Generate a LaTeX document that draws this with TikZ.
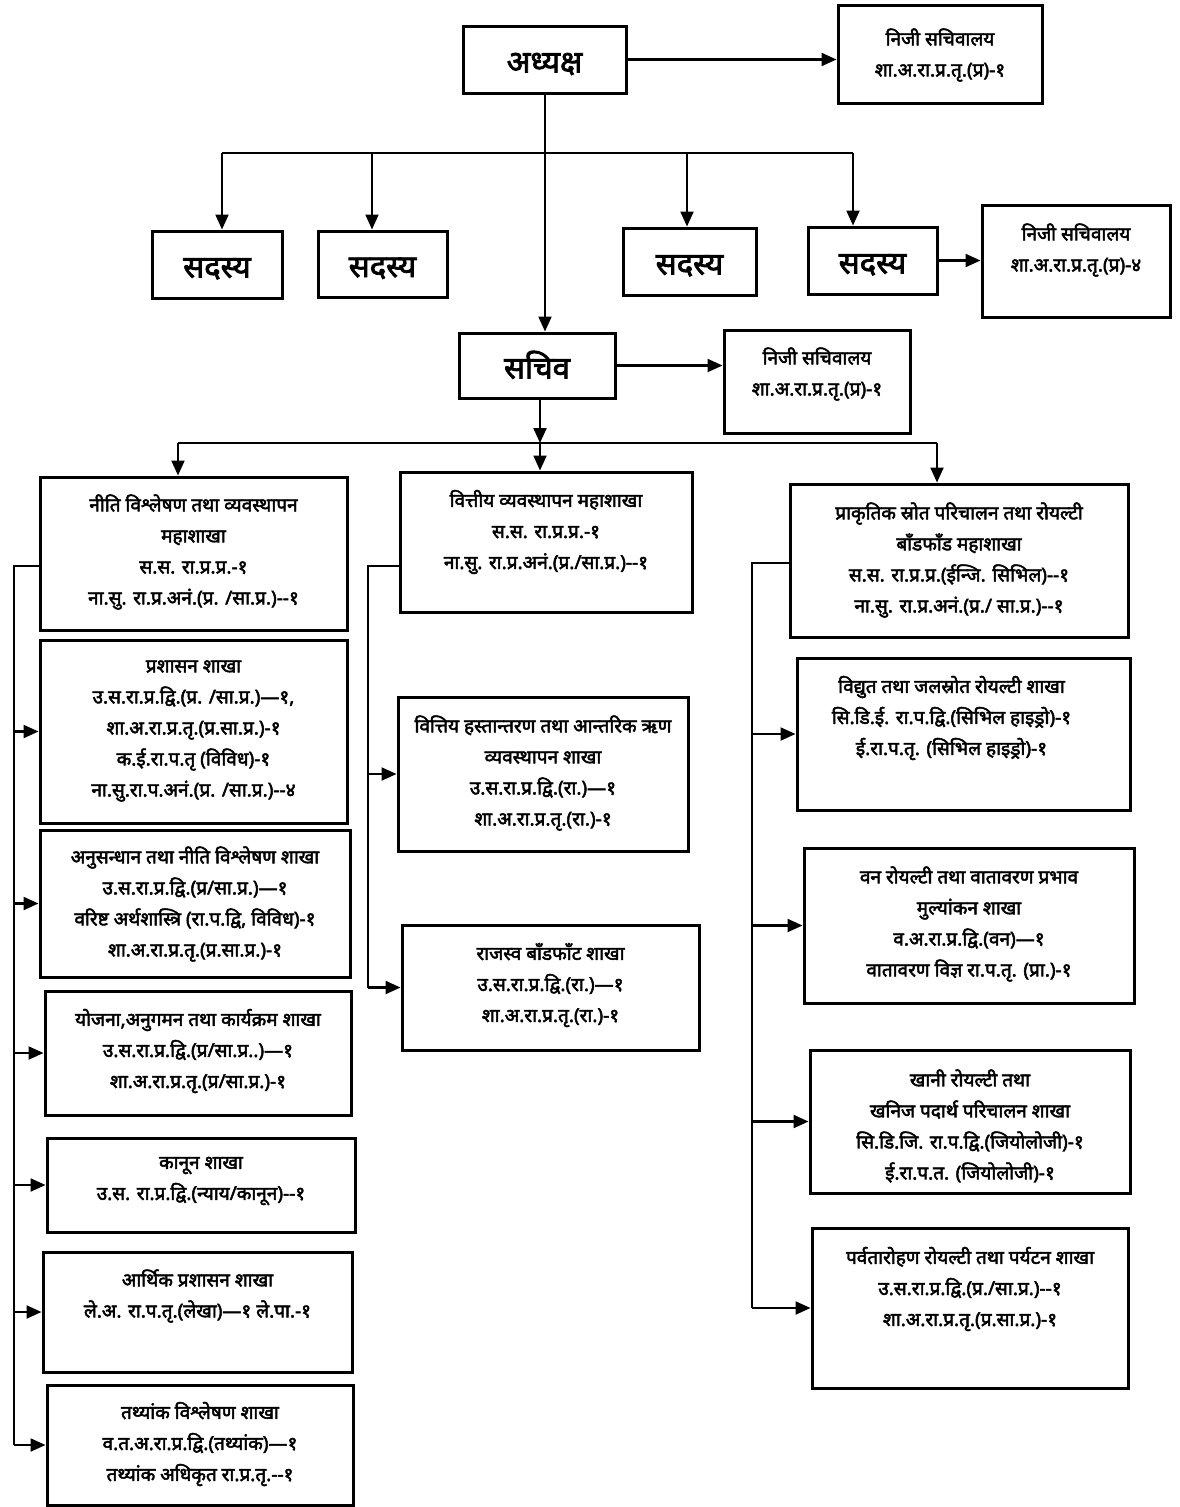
\documentclass[tikz,border=0pt]{standalone}
\usepackage{fontspec}
\newfontfamily\dev[Script=Devanagari,FakeBold=2.5]{Noto Sans}
\usetikzlibrary{arrows.meta,fit}
\begin{document}
\begin{tikzpicture}[x=1pt,y=-1pt,
  box/.style={draw,line width=3pt,inner sep=0pt},
  txt/.style={align=center,inner sep=0pt,font=\dev\fontsize{19}{31}\selectfont},
  big/.style={inner sep=0pt,font=\dev\fontsize{31}{36}\selectfont,text height=0.6em,text depth=0pt,yshift=-10pt},
  ln/.style={line width=2.2pt},
  arr/.style={ln,-{Triangle[length=15pt,width=13pt]}}]
\useasboundingbox (0,0) rectangle (1179,1507);

% top level
\node[box,fit={(463,26)(626,93)}] (adh) {};
\node[big] (adht) at (adh.center) {अध्यक्ष};
\node[box,fit={(838,5)(1042,103)}] (ps1) {};
\node[txt] (ps1t) at (ps1.center |- 0,55) {निजी सचिवालय\\शा.अ.रा.प्र.तृ.(प्र)-१};

\node[box,fit={(152,231)(282,298)}] (m1) {};
\node[box,fit={(318,231)(447,297)}] (m2) {};
\node[box,fit={(623,228)(756,295)}] (m3) {};
\node[box,fit={(808,227)(937,294)}] (m4) {};
\foreach \n in {m1,m2,m3,m4} \node[big] (\n t) at (\n.center) {सदस्य};
\node[box,fit={(982,205)(1170,317)}] (ps4) {};
\node[txt] (ps4t) at (ps4.center |- 0,250) {निजी सचिवालय\\शा.अ.रा.प्र.तृ.(प्र)-४};

\node[box,fit={(459,333)(615,398)}] (sac) {};
\node[big] (sact) at (sac.center) {सचिव};
\node[box,fit={(724,330)(910,433)}] (ps2) {};
\node[txt] (ps2t) at (ps2.center |- 0,374) {निजी सचिवालय\\शा.अ.रा.प्र.तृ.(प्र)-१};

% left column
\node[box,fit={(40,477)(347,630)}] (L1) {};
\node[txt] (L1t) at (L1.center |- 0,552) {नीति विश्लेषण तथा व्यवस्थापन\\महाशाखा\\स.स. रा.प्र.प्र.-१\\ना.सु. रा.प्र.अनं.(प्र. /सा.प्र.)--१};
\node[box,fit={(40,640)(347,823)}] (L2) {};
\node[txt] (L2t) at (L2.center |- 0,731) {प्रशासन शाखा\\उ.स.रा.प्र.द्वि.(प्र. /सा.प्र.)—१,\\शा.अ.रा.प्र.तृ.(प्र.सा.प्र.)-१\\क.ई.रा.प.तृ (विविध)-१\\ना.सु.रा.प.अनं.(प्र. /सा.प्र.)--४};
\node[box,fit={(40,830)(350,977)}] (L3) {};
\node[txt] (L3t) at (L3.center |- 0,904) {अनुसन्धान तथा नीति विश्लेषण शाखा\\उ.स.रा.प्र.द्वि.(प्र/सा.प्र.)—१\\वरिष्ट अर्थशास्त्रि (रा.प.द्वि, विविध)-१\\शा.अ.रा.प्र.तृ.(प्र.सा.प्र.)-१};
\node[box,fit={(45,991)(351,1115)}] (L4) {};
\node[txt] (L4t) at (L4.center |- 0,1051) {योजना,अनुगमन तथा कार्यक्रम शाखा\\उ.स.रा.प्र.द्वि.(प्र/सा.प्र..)—१\\शा.अ.रा.प्र.तृ.(प्र/सा.प्र.)-१};
\node[box,fit={(47,1138)(355,1232)}] (L5) {};
\node[txt] (L5t) at (L5.center |- 0,1181) {कानून शाखा\\उ.स. रा.प्र.द्वि.(न्याय/कानून)--१};
\node[box,fit={(43,1252)(352,1372)}] (L6) {};
\node[txt] (L6t) at (L6.center |- 0,1296) {आर्थिक प्रशासन शाखा\\ले.अ. रा.प.तृ.(लेखा)—१ ले.पा.-१};
\node[box,fit={(47,1385)(353,1505)}] (L7) {};
\node[txt] (L7t) at (L7.center |- 0,1444) {तथ्यांक विश्लेषण शाखा\\व.त.अ.रा.प्र.द्वि.(तथ्यांक)—१\\तथ्यांक अधिकृत रा.प्र.तृ.--१};

% middle column
\node[box,fit={(400,472)(692,612)}] (M1) {};
\node[txt] (M1t) at (M1.center |- 0,532) {वित्तीय व्यवस्थापन महाशाखा\\स.स. रा.प्र.प्र.-१\\ना.सु. रा.प्र.अनं.(प्र./सा.प्र.)--१};
\node[box,fit={(398,697)(688,851)}] (M2) {};
\node[txt] (M2t) at (M2.center |- 0,773) {वित्तिय हस्तान्तरण तथा आन्तरिक ऋण\\व्यवस्थापन शाखा\\उ.स.रा.प्र.द्वि.(रा.)—१\\शा.अ.रा.प्र.तृ.(रा.)-१};
\node[box,fit={(402,925)(699,1050)}] (M3) {};
\node[txt] (M3t) at (M3.center |- 0,985) {राजस्व बाँडफाँट शाखा\\उ.स.रा.प्र.द्वि.(रा.)—१\\शा.अ.रा.प्र.तृ.(रा.)-१};

% right column
\node[box,fit={(790,484)(1128,637)}] (R1) {};
\node[txt] (R1t) at (R1.center |- 0,560) {प्राकृतिक स्रोत परिचालन तथा रोयल्टी\\बाँडफाँड महाशाखा\\स.स. रा.प्र.प्र.(ईन्जि. सिभिल)--१\\ना.सु. रा.प्र.अनं.(प्र./ सा.प्र.)--१};
\node[box,fit={(797,658)(1130,810)}] (R2) {};
\node[txt] (R2t) at ([xshift=-12pt]R2.center |- 0,718) {विद्युत तथा जलस्रोत रोयल्टी शाखा\\सि.डि.ई. रा.प.द्वि.(सिभिल हाइड्रो)-१\\ई.रा.प.तृ. (सिभिल हाइड्रो)-१};
\node[box,fit={(804,848)(1134,1003)}] (R3) {};
\node[txt] (R3t) at (R3.center |- 0,924) {वन रोयल्टी तथा वातावरण प्रभाव\\मुल्यांकन शाखा\\व.अ.रा.प्र.द्वि.(वन)—१\\वातावरण विज्ञ रा.प.तृ. (प्रा.)-१};
\node[box,fit={(810,1050)(1130,1193)}] (R4) {};
\node[txt] (R4t) at (R4.center |- 0,1126) {खानी रोयल्टी तथा\\खनिज पदार्थ परिचालन शाखा\\सि.डि.जि. रा.प.द्वि.(जियोलोजी)-१\\ई.रा.प.त. (जियोलोजी)-१};
\node[box,fit={(812,1228)(1128,1388)}] (R5) {};
\node[txt] (R5t) at (R5.center |- 0,1289) {पर्वतारोहण रोयल्टी तथा पर्यटन शाखा\\उ.स.रा.प्र.द्वि.(प्र./सा.प्र.)--१\\शा.अ.रा.प्र.तृ.(प्र.सा.प्र.)-१};

% connectors: top
\draw[arr] (adh.east) -- (adh.east -| ps1.west);
\draw[arr] (adh.south -| 545,0) -- (sac.north -| 545,0);
\coordinate (a1) at (222,153);
\coordinate (a2) at (372,153);
\coordinate (a3) at (687,153);
\coordinate (a4) at (853,153);
\draw[ln] (a1) -- (a4);
\draw[arr] (a1) -- (a1 |- m1.north);
\draw[arr] (a2) -- (a2 |- m2.north);
\draw[arr] (a3) -- (a3 |- m3.north);
\draw[arr] (a4) -- (a4 |- m4.north);
\draw[arr] (m4.east) -- (m4.east -| ps4.west);
\draw[arr] (sac.east) -- (sac.east -| ps2.west);

% secretary bar
\coordinate (b1) at (178,443);
\coordinate (b2) at (540,443);
\coordinate (b3) at (937,443);
\draw[arr] (sac.south -| b2) -- (b2);
\draw[ln] (b1) -- (b3);
\draw[arr] (b1) -- (b1 |- L1.north);
\draw[arr] (b2) -- (b2 |- M1.north);
\draw[arr] (b3) -- (b3 |- R1.north);

% left spine
\coordinate (ls) at (14,566);
\draw[ln] (ls -| L1.west) -- (ls) -- (ls |- L7.west);
\foreach \n in {L2,L3,L4,L5,L6,L7} \draw[arr] (ls |- \n.west) -- (\n.west);

% middle spine
\coordinate (ms) at (368,566);
\draw[ln] (ms -| M1.west) -- (ms) -- (ms |- M3.west);
\foreach \n in {M2,M3} \draw[arr] (ms |- \n.west) -- (\n.west);

% right spine
\coordinate (rs) at (752,563);
\draw[ln] (rs -| R1.west) -- (rs) -- (rs |- R5.west);
\foreach \n in {R2,R3,R4,R5} \draw[arr] (rs |- \n.west) -- (\n.west);
\end{tikzpicture}
\end{document}
